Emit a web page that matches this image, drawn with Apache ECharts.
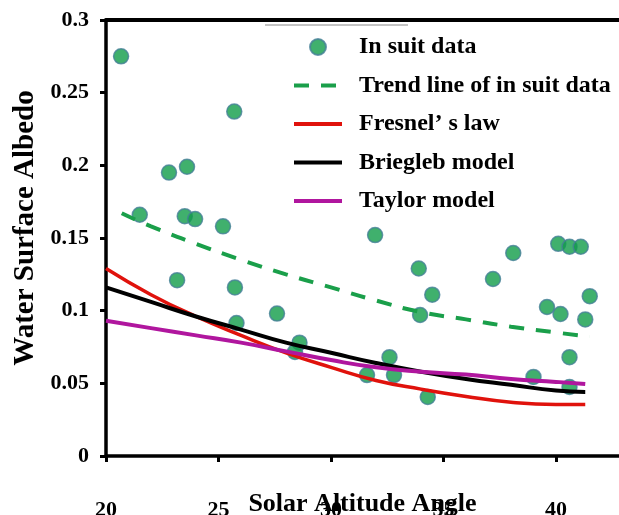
<!DOCTYPE html>
<html>
<head>
<meta charset="utf-8">
<script src="https://cdn.jsdelivr.net/npm/echarts@6/dist/echarts.min.js"></script>
<style>
  html, body { margin: 0; padding: 0; background: #fff; }
  #chart { width: 619px; height: 515px; }
</style>
</head>
<body>
<div id="chart"></div>
<script>
// in situ measurements
const inSuitAngle = [20.67, 21.5, 22.8, 23.6, 23.16, 23.5, 23.96, 25.7, 25.2, 25.73, 25.8, 27.6, 28.6, 28.4,
  31.96, 33.9, 34.5, 33.96, 32.6, 31.6, 32.8, 34.3, 38.1, 37.2, 39.6, 40.2, 40.6, 39.0, 40.6,
  40.1, 40.6, 41.1, 41.5, 41.3];
const inSuitAlbedo = [0.275, 0.166, 0.195, 0.199, 0.121, 0.165, 0.163, 0.237, 0.158, 0.116, 0.0915, 0.098, 0.078, 0.0716,
  0.152, 0.129, 0.111, 0.097, 0.068, 0.0557, 0.0557, 0.0406, 0.1397, 0.1218, 0.1025, 0.0977, 0.068, 0.0544, 0.0475,
  0.146, 0.144, 0.144, 0.110, 0.094];

// trend line of in situ data
const trendAngle = [20.7, 22, 24, 26, 28, 30, 32, 34, 36, 38, 40, 41.5];
const trendAlbedo = [0.167, 0.158, 0.146, 0.135, 0.125, 0.116, 0.107, 0.099, 0.094, 0.089, 0.085, 0.082];

// model curves
const modelAngle = [20, 22, 24, 26, 28, 30, 32, 34, 36, 38, 40, 41.3];
const fresnelAlbedo = [0.129, 0.111, 0.096, 0.083, 0.071, 0.061, 0.052, 0.046, 0.041, 0.037, 0.0355, 0.0355];
const brieglebAlbedo = [0.116, 0.106, 0.096, 0.087, 0.078, 0.071, 0.064, 0.058, 0.053, 0.049, 0.045, 0.044];
const taylorAlbedo = [0.093, 0.088, 0.083, 0.078, 0.072, 0.066, 0.061, 0.058, 0.056, 0.053, 0.051, 0.0495];

const xTicks = [20, 25, 30, 35, 40];

function pairs(xs, ys) {
  return xs.map((x, i) => [x, ys[i]]);
}

const font = 'Liberation Serif';
const noDot = { color: 'rgba(0,0,0,0)', borderWidth: 0 };
const chart = echarts.init(document.getElementById('chart'));

chart.setOption({
  animation: false,
  backgroundColor: '#fff',
  grid: {
    left: 106, right: 0, top: 20, bottom: 59,
    outerBoundsMode: 'none'
  },
  legend: {
    orient: 'vertical',
    left: 287,
    top: 30,
    itemWidth: 48,
    itemHeight: 16,
    itemGap: 14.5,
    lineStyle: { width: 4 },
    textStyle: {
      fontFamily: font, fontWeight: 'bold', fontSize: 24, color: '#000',
      lineHeight: 24, padding: [0, 0, 0, 12]
    },
    data: [
      { name: 'In suit data' },
      { name: 'Trend line of in suit data', itemStyle: noDot },
      { name: 'Fresnel\u2019 s law', itemStyle: noDot },
      { name: 'Briegleb model', itemStyle: noDot },
      { name: 'Taylor model', itemStyle: noDot }
    ]
  },
  graphic: [{
    type: 'line',
    shape: { x1: 265, y1: 25, x2: 408, y2: 25 },
    style: { stroke: '#888', lineWidth: 1 }
  }],
  xAxis: [{
    type: 'value',
    position: 'bottom',
    min: 20,
    max: 42.8,
    interval: 5,
    name: 'Solar Altitude Angle',
    nameLocation: 'middle',
    nameGap: 35,
    nameMoveOverlap: false,
    nameTextStyle: { fontFamily: font, fontWeight: 'bold', fontSize: 26, color: '#000' },
    axisLine: { show: true, onZero: false, lineStyle: { color: '#000', width: 3.5 } },
    axisTick: { show: true, length: 6, lineStyle: { color: '#000', width: 3 } },
    axisLabel: {
      showMaxLabel: false,
      margin: 17,
      padding: [26, 0, 0, 0],
      fontFamily: font, fontWeight: 'bold', fontSize: 22, color: '#000',
      formatter: (v) => (xTicks.indexOf(v) >= 0 ? String(v) : '')
    },
    splitLine: { show: false }
  }, {
    type: 'value',
    position: 'top',
    min: 20,
    max: 42.8,
    axisLine: { show: true, onZero: false, lineStyle: { color: '#000', width: 4 } },
    axisTick: { show: false },
    axisLabel: { show: false },
    splitLine: { show: false }
  }],
  yAxis: {
    type: 'value',
    min: 0,
    max: 0.3,
    interval: 0.05,
    name: 'Water Surface Albedo',
    nameLocation: 'middle',
    nameGap: 66,
    nameTextStyle: { fontFamily: font, fontWeight: 'bold', fontSize: 29, color: '#000', padding: [0, 0, 0, 20] },
    axisLine: { show: true, onZero: false, lineStyle: { color: '#000', width: 3.5 } },
    axisTick: { show: true, length: 6, lineStyle: { color: '#000', width: 3 } },
    axisLabel: { margin: 17, fontFamily: font, fontWeight: 'bold', fontSize: 22, color: '#000' },
    splitLine: { show: false }
  },
  series: [
    {
      name: 'In suit data',
      type: 'scatter',
      data: pairs(inSuitAngle, inSuitAlbedo),
      symbolSize: 15,
      itemStyle: { color: '#109c49', borderColor: '#457f97', borderWidth: 1.5 },
      z: 2
    },
    {
      name: 'Trend line of in suit data',
      type: 'line',
      data: pairs(trendAngle, trendAlbedo),
      smooth: true,
      symbol: 'none',
      itemStyle: { color: '#1a9f4a' },
      lineStyle: { color: '#1a9f4a', width: 4, type: [15, 12] },
      z: 3
    },
    {
      name: 'Fresnel\u2019 s law',
      type: 'line',
      data: pairs(modelAngle, fresnelAlbedo),
      smooth: true,
      symbol: 'none',
      itemStyle: { color: '#e0120c' },
      lineStyle: { color: '#e0120c', width: 3.5 },
      z: 3
    },
    {
      name: 'Briegleb model',
      type: 'line',
      data: pairs(modelAngle, brieglebAlbedo),
      smooth: true,
      symbol: 'none',
      itemStyle: { color: '#000' },
      lineStyle: { color: '#000', width: 4 },
      z: 3
    },
    {
      name: 'Taylor model',
      type: 'line',
      data: pairs(modelAngle, taylorAlbedo),
      smooth: true,
      symbol: 'none',
      itemStyle: { color: '#b0169e' },
      lineStyle: { color: '#b0169e', width: 4 },
      z: 3
    }
  ]
});
</script>
</body>
</html>
